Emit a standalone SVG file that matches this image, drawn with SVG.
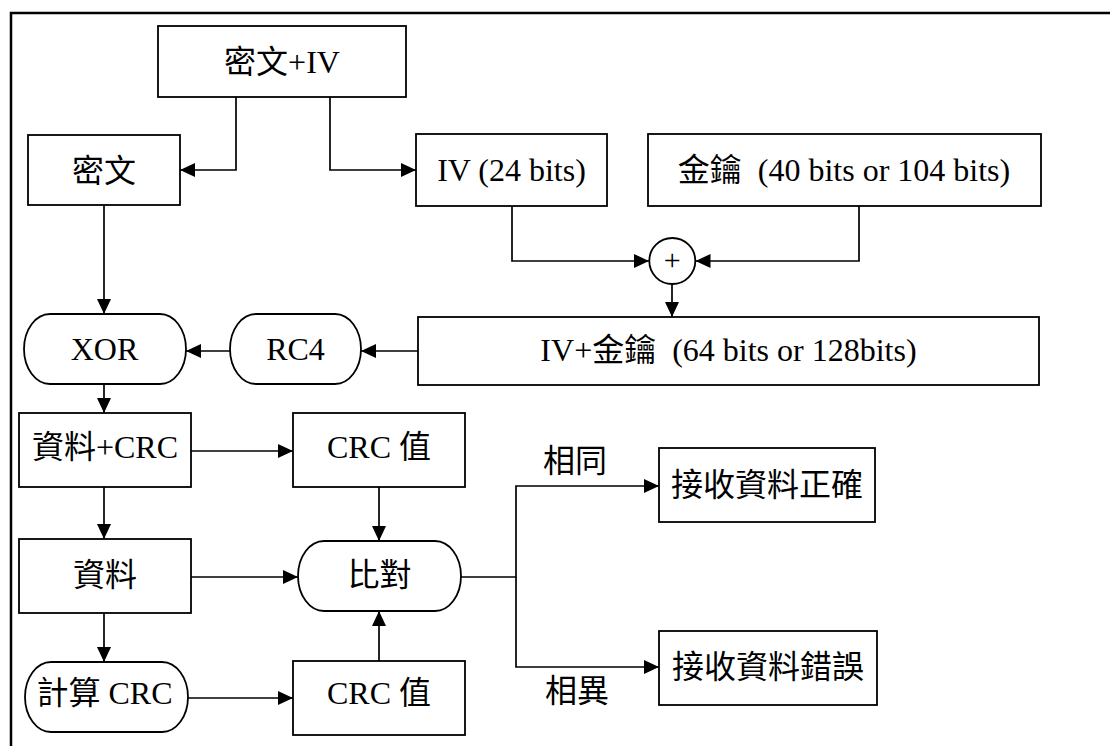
<svg xmlns="http://www.w3.org/2000/svg" width="1110" height="746" viewBox="0 0 1110 746">
<style>
  .box { fill: #ffffff; stroke: #000000; stroke-width: 1.8; }
  .wire { fill: none; stroke: #000000; stroke-width: 1.7; }
  .arr { marker-end: url(#ah); }
  text { font-family: "Liberation Serif", "Noto Sans CJK TC", serif; font-size: 32px; fill: #000000; text-anchor: middle; }
</style>
<defs>
  <marker id="ah" markerUnits="userSpaceOnUse" markerWidth="16" markerHeight="15" refX="15" refY="7" orient="auto">
    <path d="M0,0 L15,7 L0,14 z" fill="#000000"/>
  </marker>
</defs>
<rect x="0" y="0" width="1110" height="746" fill="#ffffff"/>
<path d="M11,746 V13 H1110" fill="none" stroke="#000000" stroke-width="2.5"/>

<g id="connectors">
  <path class="wire arr" d="M236,97 V170 H180"/>
  <path class="wire arr" d="M330,97 V170 H416"/>
  <path class="wire arr" d="M104,205 V314"/>
  <path class="wire arr" d="M512,206 V261 H649"/>
  <path class="wire arr" d="M859,206 V261 H695.5"/>
  <path class="wire arr" d="M672,284 V317"/>
  <path class="wire arr" d="M418,351 H361"/>
  <path class="wire arr" d="M230,351 H186"/>
  <path class="wire arr" d="M104,384 V413"/>
  <path class="wire arr" d="M191,451 H293"/>
  <path class="wire arr" d="M104,487 V539"/>
  <path class="wire arr" d="M379,487 V541"/>
  <path class="wire arr" d="M191,577 H298"/>
  <path class="wire arr" d="M104,613 V662"/>
  <path class="wire arr" d="M188,698 H293"/>
  <path class="wire arr" d="M379,661 V611"/>
  <path class="wire arr" d="M461,577 H516 V486 H659"/>
  <path class="wire arr" d="M516,577 V667 H659"/>
  <text x="575" y="472">相同</text>
  <text x="577" y="702">相異</text>
</g>

<g id="n-cipher-iv">
  <rect class="box" x="158" y="26" width="248" height="71"/>
  <text x="282" y="73">密文+IV</text>
</g>
<g id="n-cipher">
  <rect class="box" x="28" y="135" width="152" height="70"/>
  <text x="104" y="182">密文</text>
</g>
<g id="n-iv">
  <rect class="box" x="416" y="134" width="191" height="72"/>
  <text x="511.5" y="181">IV (24 bits)</text>
</g>
<g id="n-key">
  <rect class="box" x="648" y="134" width="393" height="72"/>
  <text x="844" y="181" xml:space="preserve">金鑰  (40 bits or 104 bits)</text>
</g>
<g id="n-plus">
  <circle class="box" cx="672.3" cy="261" r="23"/>
  <text x="672.3" y="270" style="font-size:30px">+</text>
</g>
<g id="n-ivkey">
  <rect class="box" x="418" y="317" width="621" height="68"/>
  <text x="728.5" y="361" xml:space="preserve">IV+金鑰  (64 bits or 128bits)</text>
</g>
<g id="n-xor">
  <rect class="box" x="24" y="314" width="162" height="70" rx="26" ry="35"/>
  <text x="104.5" y="360">XOR</text>
</g>
<g id="n-rc4">
  <rect class="box" x="230" y="314" width="131" height="70" rx="26" ry="35"/>
  <text x="295.5" y="360">RC4</text>
</g>
<g id="n-data-crc">
  <rect class="box" x="19" y="413" width="172" height="74"/>
  <text x="105" y="458">資料+CRC</text>
</g>
<g id="n-crc-top">
  <rect class="box" x="293" y="413" width="172" height="74"/>
  <text x="379" y="458">CRC 值</text>
</g>
<g id="n-data">
  <rect class="box" x="19" y="539" width="172" height="74"/>
  <text x="105" y="586">資料</text>
</g>
<g id="n-compare">
  <rect class="box" x="298" y="541" width="163" height="70" rx="26" ry="35"/>
  <text x="379.5" y="586">比對</text>
</g>
<g id="n-calc-crc">
  <rect class="box" x="25" y="662" width="163" height="70" rx="26" ry="35"/>
  <text x="104.5" y="704">計算 CRC</text>
</g>
<g id="n-crc-bottom">
  <rect class="box" x="293" y="661" width="172" height="74"/>
  <text x="379" y="704">CRC 值</text>
</g>
<g id="n-ok">
  <rect class="box" x="659" y="448" width="216" height="74"/>
  <text x="767" y="496">接收資料正確</text>
</g>
<g id="n-err">
  <rect class="box" x="659" y="631" width="218" height="74"/>
  <text x="768" y="678">接收資料錯誤</text>
</g>
</svg>
